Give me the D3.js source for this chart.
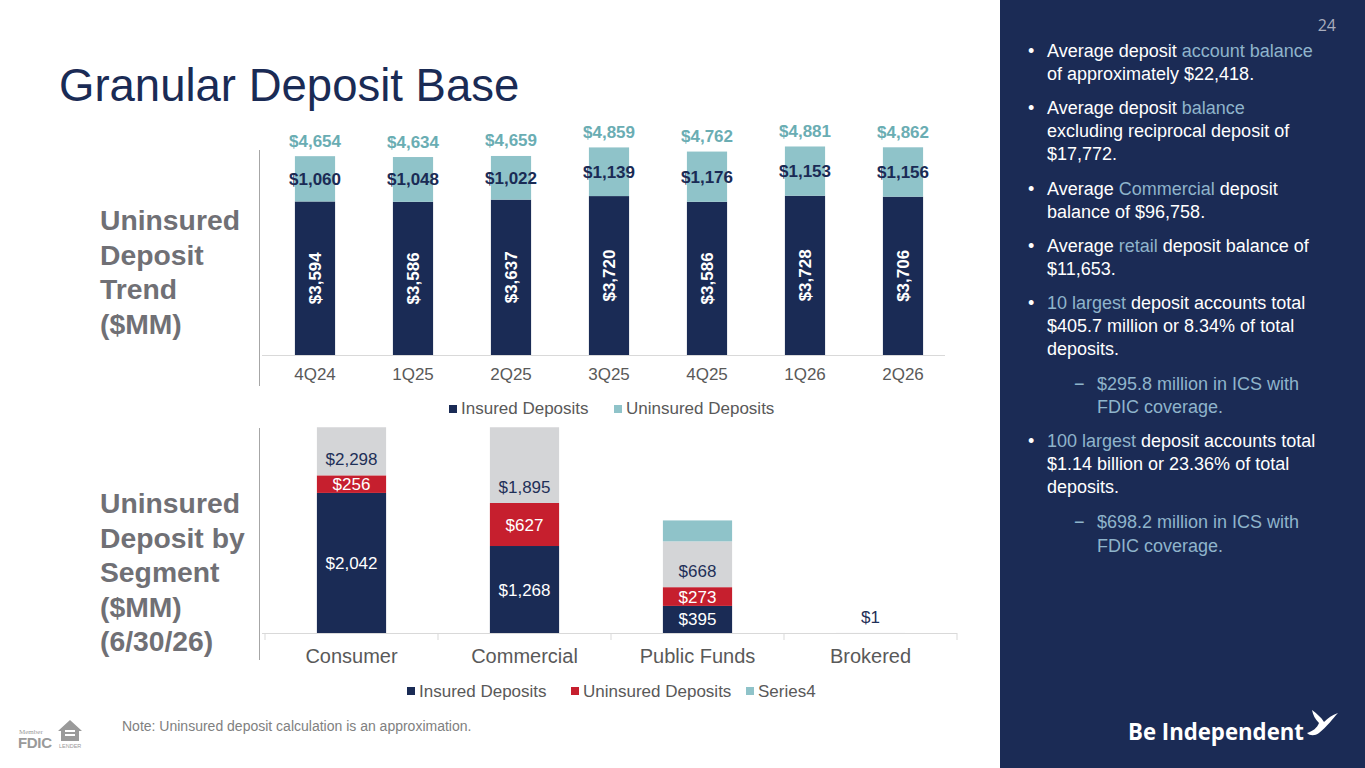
<!DOCTYPE html>
<html>
<head>
<meta charset="utf-8">
<script src="https://cdn.jsdelivr.net/npm/d3@7"></script>
<style>
  body { margin: 0; background: #fff; }
  svg { display: block; font-family: "Liberation Sans", Arial, sans-serif; }
</style>
</head>
<body>
<div id="slide"></div>
<script>
// data
var quarters = ['4Q24', '1Q25', '2Q25', '3Q25', '4Q25', '1Q26', '2Q26'];
var insuredTrend = [3594, 3586, 3637, 3720, 3586, 3728, 3706];
var uninsuredTrend = [1060, 1048, 1022, 1139, 1176, 1153, 1156];
var totalTrend = [4654, 4634, 4659, 4859, 4762, 4881, 4862];

var segments = ['Consumer', 'Commercial', 'Public Funds', 'Brokered'];
var segInsured = [2042, 1268, 395, 0];
var segUninsured = [256, 627, 273, 0];
var segTotal = [2298, 1895, 668, 1];
var segSeries4 = [0, 0, 305, 0];

var topLegend = ['Insured Deposits', 'Uninsured Deposits'];
var bottomLegend = ['Insured Deposits', 'Uninsured Deposits', 'Series4'];

var NAVY = '#1a2b55', TEAL = '#8fc3c9', TEAL_TXT = '#6aadb3', RED = '#c61f2e',
    GREY = '#d4d5d7', AXIS_TXT = '#595959', HILITE = '#8fb4cb';

var W = 1365, H = 768;
var svg = d3.select('#slide').append('svg').attr('width', W).attr('height', H);
svg.append('rect').attr('width', W).attr('height', H).attr('fill', '#fff');

// title
svg.append('text').attr('x', 59).attr('y', 101)
  .attr('font-size', 45.5).attr('fill', NAVY)
  .text('Granular Deposit Base');

// left side headings
function heading(lines, y0) {
  var t = svg.append('text').attr('x', 100).attr('y', y0)
    .attr('font-size', 28.3).attr('font-weight', 'bold').attr('fill', '#707075');
  lines.forEach(function(l, i) {
    t.append('tspan').attr('x', 100).attr('dy', i ? 34.5 : 0).text(l);
  });
}
heading(['Uninsured', 'Deposit', 'Trend', '($MM)'], 230);
heading(['Uninsured', 'Deposit by', 'Segment', '($MM)', '(6/30/26)'], 513);

svg.append('line').attr('x1', 259.5).attr('x2', 259.5).attr('y1', 150).attr('y2', 386)
  .attr('stroke', '#a6a6a6').attr('stroke-width', 1);
svg.append('line').attr('x1', 259.5).attr('x2', 259.5).attr('y1', 428).attr('y2', 660)
  .attr('stroke', '#a6a6a6').attr('stroke-width', 1);

// ---------- top chart ----------
var x1 = d3.scaleBand().domain(quarters).range([266, 952]).paddingInner(0.59).paddingOuter(0.295);
var y1 = d3.scaleLinear().domain([0, 5000]).range([355, 355 - 5000 * 0.04272]);

var gTop = svg.append('g');
gTop.append('line').attr('x1', 262).attr('x2', 945).attr('y1', 355.5).attr('y2', 355.5)
  .attr('stroke', '#d9d9d9');

quarters.forEach(function(q, i) {
  var x = x1(q), bw = x1.bandwidth(), cx = x + bw / 2;
  var yIns = y1(insuredTrend[i]);
  var yTot = y1(insuredTrend[i] + uninsuredTrend[i]);
  gTop.append('rect').attr('x', x).attr('y', yIns).attr('width', bw)
    .attr('height', y1(0) - yIns).attr('fill', NAVY);
  gTop.append('rect').attr('x', x).attr('y', yTot).attr('width', bw)
    .attr('height', yIns - yTot).attr('fill', TEAL);

  // labels
  gTop.append('text').attr('x', cx).attr('y', yTot - 9.5)
    .attr('text-anchor', 'middle').attr('font-size', 17).attr('font-weight', 'bold')
    .attr('fill', TEAL_TXT).text(d3.format('$,')(totalTrend[i]));
  gTop.append('text').attr('x', cx).attr('y', (yIns + yTot) / 2 + 6)
    .attr('text-anchor', 'middle').attr('font-size', 17).attr('font-weight', 'bold')
    .attr('fill', NAVY).text(d3.format('$,')(uninsuredTrend[i]));
  var my = (yIns + y1(0)) / 2;
  gTop.append('text').attr('transform', 'translate(' + (cx + 6) + ',' + my + ') rotate(-90)')
    .attr('text-anchor', 'middle').attr('font-size', 17).attr('font-weight', 'bold')
    .attr('fill', '#fff').text(d3.format('$,')(insuredTrend[i]));
});

gTop.append('g').attr('transform', 'translate(0,355)')
  .call(d3.axisBottom(x1).tickSize(0).tickPadding(13))
  .call(function(g) {
    g.select('.domain').remove();
    g.selectAll('text').attr('font-size', 17).attr('fill', AXIS_TXT)
      .attr('font-family', '"Liberation Sans", Arial, sans-serif');
  });

// top legend
var lgTop = svg.append('g');
var lgTopX = [449, 614], lgTopCol = [NAVY, TEAL];
topLegend.forEach(function(name, i) {
  lgTop.append('rect').attr('x', lgTopX[i]).attr('y', 405).attr('width', 8).attr('height', 8)
    .attr('fill', lgTopCol[i]);
  lgTop.append('text').attr('x', lgTopX[i] + 12).attr('y', 414)
    .attr('font-size', 17).attr('fill', AXIS_TXT).text(name);
});

// ---------- bottom chart ----------
var x2 = d3.scaleBand().domain(segments).range([265, 957]).paddingInner(0.6).paddingOuter(0.3);
var y2 = d3.scaleLinear().domain([0, 3000]).range([633, 633 - 3000 * 0.0686]);

svg.append('clipPath').attr('id', 'plotclip')
  .append('rect').attr('x', 262).attr('y', y2(3000)).attr('width', 700).attr('height', 633 - y2(3000) + 1);

var gBot = svg.append('g');
var bars = gBot.append('g').attr('clip-path', 'url(#plotclip)');
var labels = gBot.append('g');

segments.forEach(function(s, i) {
  var x = x2(s), bw = x2.bandwidth(), cx = x + bw / 2;
  var stack = [
    { v: segInsured[i], c: NAVY },
    { v: segUninsured[i], c: RED },
    { v: segTotal[i], c: GREY },
    { v: segSeries4[i], c: TEAL }
  ];
  var base = 0;
  stack.forEach(function(d) {
    d.y0 = base; d.y1 = base + d.v; base = d.y1;
    if (d.v > 0) {
      bars.append('rect').attr('x', x).attr('y', y2(d.y1)).attr('width', bw)
        .attr('height', y2(d.y0) - y2(d.y1)).attr('fill', d.c);
    }
  });
  if (segInsured[i] > 0)
    labels.append('text').attr('x', cx).attr('y', (y2(stack[0].y0) + y2(stack[0].y1)) / 2 + 6)
      .attr('text-anchor', 'middle').attr('font-size', 17).attr('fill', '#fff')
      .text(d3.format('$,')(segInsured[i]));
  if (segUninsured[i] > 0)
    labels.append('text').attr('x', cx).attr('y', (y2(stack[1].y0) + y2(stack[1].y1)) / 2 + 6)
      .attr('text-anchor', 'middle').attr('font-size', 17).attr('fill', '#fff')
      .text(d3.format('$,')(segUninsured[i]));
  // grey total label sits at the inside base of its segment
  labels.append('text').attr('x', cx).attr('y', y2(stack[2].y0) - 10)
    .attr('text-anchor', 'middle').attr('font-size', 17).attr('fill', '#1f3058')
    .text(d3.format('$,')(segTotal[i]));
});

gBot.append('g').attr('transform', 'translate(0,633)')
  .call(d3.axisBottom(x2).tickSize(0).tickPadding(16))
  .call(function(g) {
    g.select('.domain').attr('stroke', '#d9d9d9').attr('d', 'M262,0.5H957');
    g.selectAll('text').attr('font-size', 20).attr('fill', AXIS_TXT)
      .attr('font-family', '"Liberation Sans", Arial, sans-serif');
  });
// category separators on the axis
var sepX = segments.map(function(s) { return x2(s) - x2.step() * x2.paddingInner() / 2; });
sepX.push(x2(segments[segments.length - 1]) + x2.bandwidth() + x2.step() * x2.paddingInner() / 2);
gBot.selectAll('.sep').data(sepX).enter().append('line')
  .attr('x1', function(d) { return d; }).attr('x2', function(d) { return d; })
  .attr('y1', 633).attr('y2', 640).attr('stroke', '#d9d9d9');

// bottom legend
var lgBot = svg.append('g');
var lgBotX = [407, 571, 746], lgBotCol = [NAVY, RED, TEAL];
bottomLegend.forEach(function(name, i) {
  lgBot.append('rect').attr('x', lgBotX[i]).attr('y', 687).attr('width', 8).attr('height', 8)
    .attr('fill', lgBotCol[i]);
  lgBot.append('text').attr('x', lgBotX[i] + 12).attr('y', 696.5)
    .attr('font-size', 17).attr('fill', AXIS_TXT).text(name);
});

// note
svg.append('text').attr('x', 122).attr('y', 731).attr('font-size', 14).attr('fill', '#808080')
  .text('Note: Uninsured deposit calculation is an approximation.');

// FDIC / equal housing mark
var fd = svg.append('g').attr('fill', '#9a9a9a');
fd.append('text').attr('x', 19).attr('y', 734).attr('font-size', 7).attr('font-family', 'serif').text('Member');
fd.append('text').attr('x', 18).attr('y', 748).attr('font-size', 15).attr('font-weight', 'bold')
  .attr('textLength', 34).text('FDIC');
fd.append('path').attr('d', 'M58,731 L70,720 L82,731 L79,731 L79,741 L61,741 L61,731 Z');
fd.append('rect').attr('x', 65).attr('y', 730).attr('width', 10).attr('height', 2).attr('fill', '#fff');
fd.append('rect').attr('x', 65).attr('y', 734).attr('width', 10).attr('height', 2).attr('fill', '#fff');
fd.append('text').attr('x', 59).attr('y', 748).attr('font-size', 5.5).text('LENDER');

// ---------- right panel ----------
svg.append('rect').attr('x', 1000).attr('y', 0).attr('width', 365).attr('height', H).attr('fill', '#1b2b55');
svg.append('text').attr('x', 1336).attr('y', 31).attr('text-anchor', 'end')
  .attr('font-size', 16).attr('fill', '#a9adbd').attr('font-family', '"Open Sans", sans-serif').text('24');

// each line: [level, first-line-of-item, [[text, highlighted], ...], baseline]
var panelLines = [
  [1, true,  [['Average deposit ', 0], ['account balance', 1]], 57],
  [1, false, [['of approximately $22,418.', 0]], 80],
  [1, true,  [['Average deposit ', 0], ['balance', 1]], 114],
  [1, false, [['excluding reciprocal deposit of', 0]], 137],
  [1, false, [['$17,772.', 0]], 160],
  [1, true,  [['Average ', 0], ['Commercial', 1], [' deposit', 0]], 195],
  [1, false, [['balance of $96,758.', 0]], 218],
  [1, true,  [['Average ', 0], ['retail', 1], [' deposit balance of', 0]], 252],
  [1, false, [['$11,653.', 0]], 275],
  [1, true,  [['10 largest', 1], [' deposit accounts total', 0]], 309],
  [1, false, [['$405.7 million or 8.34% of total', 0]], 332],
  [1, false, [['deposits.', 0]], 355],
  [2, true,  [['$295.8 million in ICS with', 1]], 390],
  [2, false, [['FDIC coverage.', 1]], 413],
  [1, true,  [['100 largest', 1], [' deposit accounts total', 0]], 447],
  [1, false, [['$1.14 billion or 23.36% of total', 0]], 470],
  [1, false, [['deposits.', 0]], 493],
  [2, true,  [['$698.2 million in ICS with', 1]], 528],
  [2, false, [['FDIC coverage.', 1]], 552]
];
var panel = svg.append('g').attr('font-size', 18);
panelLines.forEach(function(l) {
  var tx = l[0] === 1 ? 1047 : 1097;
  if (l[1]) {
    panel.append('text').attr('x', l[0] === 1 ? 1028 : 1074).attr('y', l[3])
      .attr('fill', l[0] === 1 ? '#fff' : HILITE).text(l[0] === 1 ? '•' : '−');
  }
  var t = panel.append('text').attr('x', tx).attr('y', l[3]);
  l[2].forEach(function(p) {
    t.append('tspan').attr('fill', p[1] ? HILITE : '#fff').text(p[0]);
  });
});

// logo
svg.append('text').attr('x', 1128).attr('y', 740).attr('font-size', 23).attr('font-weight', 'bold')
  .attr('fill', '#fff').attr('font-family', '"Open Sans", "Liberation Sans", sans-serif')
  .attr('textLength', 176).attr('lengthAdjust', 'spacingAndGlyphs').text('Be Independent');
svg.append('path').attr('fill', '#fff')
  .attr('d', 'M1307,733 C1313,731 1317,728 1319,723 C1315,719 1313,715 1312,710 C1317,714 1321,717 1324,722 C1328,718 1332,715 1338,713 C1333,718 1327,727 1319,733 C1315,736 1310,736 1307,733 Z');
</script>
</body>
</html>
